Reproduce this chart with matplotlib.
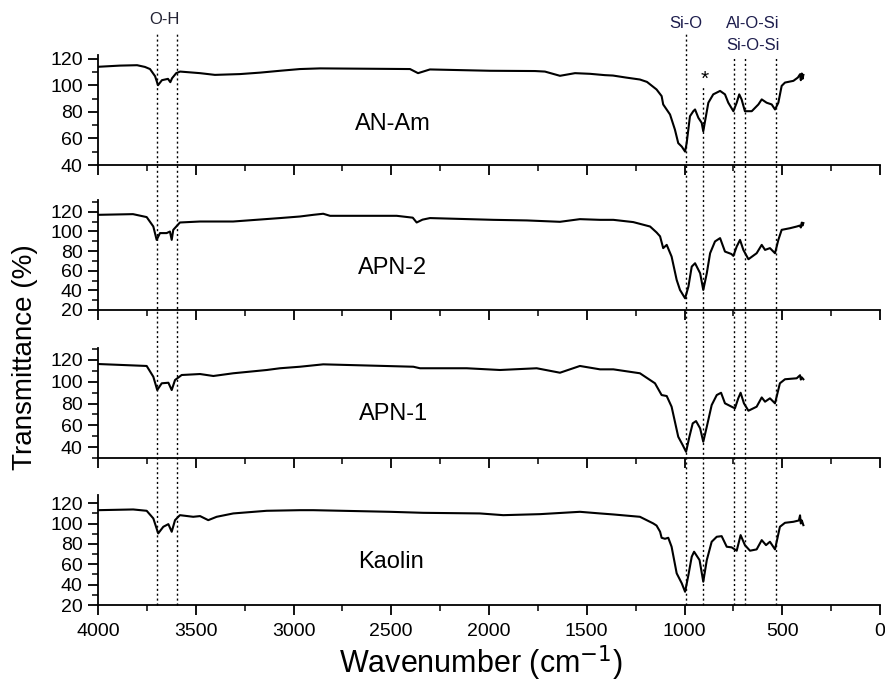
import matplotlib
matplotlib.use('Agg')
import matplotlib.pyplot as plt
from matplotlib.ticker import MultipleLocator, FixedLocator
from matplotlib.lines import Line2D
import matplotlib.transforms as mtransforms

plt.rcParams['font.family'] = ['Liberation Sans', 'DejaVu Sans']

# ---------------- data ----------------
sample_names = ["AN-Am", "APN-2", "APN-1", "Kaolin"]

wn_anam = [4000, 3888, 3800, 3760, 3734, 3708, 3693, 3673, 3642, 3630, 3621, 3600, 3580,
           3478, 3402, 3274, 3171, 3069, 2967, 2864, 2404, 2363, 2302, 1995, 1765, 1714,
           1637, 1560, 1483, 1407, 1366, 1300, 1228, 1192, 1143, 1117, 1109, 1074, 1049,
           1032, 1014, 997, 989, 972, 955, 946, 929, 912, 904, 895, 878, 853, 818, 793,
           776, 750, 733, 720, 708, 691, 656, 622, 605, 580, 554, 537, 520, 503, 486,
           443, 420, 409, 405, 400, 396, 392]
t_anam = [114.1, 115.0, 115.3, 114.0, 112.4, 107.0, 100.2, 104.0, 105.0, 102.5, 105.5, 109.3, 110.5,
          109.3, 108.0, 108.6, 109.7, 111.1, 112.4, 112.9, 112.4, 109.3, 112.1, 111.1, 110.9, 110.5,
          107.3, 109.3, 108.8, 107.8, 107.5, 106.0, 104.5, 102.7, 97.0, 92.0, 85.7, 78.1, 66.7,
          56.5, 53.9, 50.1, 56.5, 76.8, 80.6, 81.9, 75.6, 71.8, 65.4, 73.0, 87.0, 93.3, 95.9, 93.3,
          87.0, 80.6, 87.0, 93.3, 89.5, 80.6, 80.6, 85.7, 89.5, 87.0, 85.7, 81.9, 87.0, 99.7, 102.2,
          103.5, 106.0, 108.5, 104.0, 109.0, 105.0, 108.0]

wn_apn2 = [4000, 3821, 3751, 3717, 3700, 3683, 3649, 3632, 3623, 3615, 3581, 3478, 3309,
           3069, 2967, 2899, 2848, 2813, 2472, 2390, 2370, 2340, 2302, 1978, 1807, 1637,
           1535, 1432, 1364, 1262, 1176, 1143, 1125, 1109, 1091, 1066, 1040, 1023, 997,
           980, 963, 946, 920, 904, 886, 869, 844, 818, 793, 760, 750, 733, 716, 699, 673,
           631, 605, 588, 563, 537, 520, 503, 460, 426, 410, 405, 400, 396, 392]
t_apn2 = [116.9, 117.6, 114.6, 105.0, 91.4, 98.3, 98.3, 99.9, 91.4, 101.6, 109.1, 110.1, 110.1,
          113.6, 115.2, 116.9, 118.0, 115.9, 115.9, 114.0, 109.1, 112.0, 113.6, 111.8, 111.2, 109.8,
          112.5, 111.8, 111.8, 109.5, 105.0, 99.0, 95.0, 83.0, 86.3, 74.4, 50.6, 40.4, 31.9,
          43.8, 64.2, 67.6, 57.4, 40.4, 57.4, 77.8, 89.8, 93.2, 79.5, 77.0, 75.1, 84.6, 91.4, 81.2, 71.7,
          77.8, 86.3, 81.2, 83.0, 77.8, 91.4, 101.6, 103.3, 105.0, 106.0, 104.0, 109.0, 106.0, 108.5]

wn_apn1 = [4000, 3751, 3717, 3697, 3674, 3640, 3623, 3606, 3572, 3478, 3410, 3308, 3137,
           3069, 2967, 2848, 2387, 2353, 2114, 1944, 1756, 1637, 1535, 1432, 1364, 1228,
           1151, 1117, 1091, 1066, 1032, 1009, 992, 975, 958, 941, 920, 904, 886, 861,
           835, 813, 793, 759, 742, 725, 713, 696, 673, 631, 605, 588, 563, 537, 512, 486,
           426, 409, 405, 400, 392]
t_apn1 = [116.3, 114.5, 104.6, 92.4, 98.6, 99.1, 92.4, 101.6, 106.2, 107.1, 105.3, 107.8, 110.8,
          112.4, 113.8, 116.0, 113.8, 112.4, 112.4, 110.8, 112.4, 108.3, 114.5, 111.4, 111.4, 107.8,
          98.6, 87.8, 86.9, 77.1, 49.5, 41.8, 35.7, 49.5, 61.8, 63.9, 57.2, 44.9, 58.7, 78.6,
          87.8, 89.9, 80.2, 77.1, 75.6, 84.8, 89.9, 80.2, 73.4, 77.1, 85.6, 81.7, 84.8, 80.2, 98.6, 102.3,
          103.2, 106.0, 102.0, 104.0, 102.3]

wn_kaolin = [4000, 3820, 3751, 3717, 3692, 3666, 3640, 3623, 3606, 3581, 3513, 3478, 3436,
             3393, 3308, 3137, 2967, 2899, 2506, 2336, 2047, 1927, 1739, 1535, 1432, 1364,
             1228, 1160, 1143, 1125, 1117, 1100, 1083, 1066, 1040, 1014, 997, 980, 963, 951,
             923, 904, 886, 861, 835, 810, 784, 759, 733, 713, 691, 665, 631, 605, 583, 563,
             537, 512, 486, 443, 415, 409, 405, 400, 392]
t_kaolin = [113.1, 113.8, 112.5, 105.0, 90.3, 96.8, 99.4, 91.9, 103.3, 108.2, 106.6, 107.3, 103.3,
            106.6, 109.9, 112.5, 113.1, 113.1, 111.5, 110.5, 109.9, 108.2, 109.2, 111.5, 109.9, 108.9,
            106.6, 100.1, 98.0, 92.0, 86.0, 85.0, 86.0, 77.2, 51.1, 41.3, 33.0, 49.4, 67.4, 72.3,
            64.1, 42.9, 64.1, 82.1, 87.0, 87.6, 77.2, 76.6, 73.3, 88.6, 78.8, 73.3, 74.6, 83.7, 78.8, 82.1,
            74.6, 96.8, 100.7, 101.7, 103.0, 108.0, 100.0, 103.0, 98.4]

spectra_wn = [wn_anam, wn_apn2, wn_apn1, wn_kaolin]
spectra_t = [t_anam, t_apn2, t_apn1, t_kaolin]

y_limits = [(40, 123), (20, 132), (30, 131), (20, 128)]
y_ticks = [[40, 60, 80, 100, 120],
           [20, 40, 60, 80, 100, 120],
           [40, 60, 80, 100, 120],
           [20, 40, 60, 80, 100, 120]]
x_ticks = [4000, 3500, 3000, 2500, 2000, 1500, 1000, 500, 0]

# band marker lines (cm-1)
oh_bands = [3700, 3598]
sio_band = 990
star_band = 905
alosi_bands = [745, 688, 532]

# ---------------- figure ----------------
FW, FH = 885, 682
fig = plt.figure(figsize=(FW / 100, FH / 100), dpi=100)

left = 98 / FW
width = 782 / FW
height = 110 / FH
bottoms_px = [165, 310, 458, 605]

axes = []
for i in range(4):
    ax = fig.add_axes([left, 1 - bottoms_px[i] / FH, width, height],
                      sharex=axes[0] if axes else None)
    ax.plot(spectra_wn[i], spectra_t[i], color='black', lw=1.5)
    ax.set_ylim(*y_limits[i])
    ax.yaxis.set_major_locator(FixedLocator(y_ticks[i]))
    ax.yaxis.set_minor_locator(MultipleLocator(10))
    for s in ['top', 'right']:
        ax.spines[s].set_visible(False)
    for s in ['left', 'bottom']:
        ax.spines[s].set_linewidth(1.3)
    ax.tick_params(which='major', direction='out', length=7, width=1.3,
                   labelsize=14, pad=4)
    ax.tick_params(which='minor', direction='out', length=4, width=1.1)
    ax.patch.set_alpha(0)
    axes.append(ax)

axes[0].set_xlim(4000, 0)
axes[0].xaxis.set_major_locator(FixedLocator(x_ticks))
axes[0].xaxis.set_minor_locator(MultipleLocator(250))
for ax in axes[:3]:
    ax.tick_params(axis='x', labelbottom=False)
axes[3].tick_params(axis='x', pad=6)

# sample labels
label_pos = [(393, 124.5), (393, 267.5), (394, 414), (391, 562)]
for name, (px, py) in zip(sample_names, label_pos):
    fig.text(px / FW, 1 - py / FH, name, ha='center', va='center', fontsize=17)

# dashed band lines spanning the panels
trans = mtransforms.blended_transform_factory(axes[3].transData, fig.transFigure)
y_bot = 1 - 605 / FH
def vline(x, ytop_px):
    fig.add_artist(Line2D([x, x], [y_bot, 1 - ytop_px / FH], transform=trans,
                          color='black', lw=1.0, linestyle=(0, (1.5, 2.0)),
                          clip_on=False))
for b in oh_bands:
    vline(b, 32)
vline(sio_band, 32)
vline(star_band, 85)
for b in alosi_bands:
    vline(b, 57)

navy = '#1d1d4d'
fig.text(164 / FW, 1 - 19.5 / FH, 'O-H', ha='center', va='center', fontsize=12, color='#222233')
fig.text(686 / FW, 1 - 23 / FH, 'Si-O', ha='center', va='center', fontsize=12, color=navy)
fig.text(753 / FW, 1 - 23 / FH, 'Al-O-Si', ha='center', va='center', fontsize=12, color=navy)
fig.text(753 / FW, 1 - 46 / FH, 'Si-O-Si', ha='center', va='center', fontsize=12, color=navy)
fig.text(705 / FW, 1 - 79 / FH, '*', ha='center', va='center', fontsize=15, color='black')

fig.text(481 / FW, 1 - 663 / FH, 'Wavenumber (cm$^{-1}$)', ha='center', va='center', fontsize=22)
fig.text(25 / FW, 1 - 357 / FH, 'Transmittance (%)', ha='center', va='center',
         rotation=90, fontsize=20)

fig.savefig('out.png', dpi=100)
